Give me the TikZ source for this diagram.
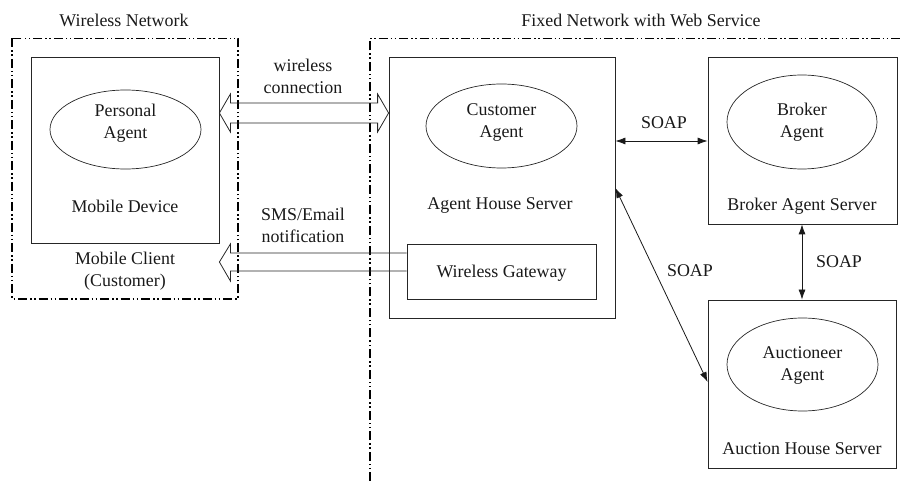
\documentclass[tikz,border=0pt]{standalone}
\usepackage{fontspec}
\setmainfont{Liberation Serif}
\usetikzlibrary{calc,arrows.meta}
\tikzset{
  lbl/.style={font=\fontsize{17.9}{22}\selectfont, align=center, inner sep=0pt, text=black!90},
  box/.style={draw=black!85, line width=0.8pt, inner sep=0pt},
  ell/.style={draw=black!85, line width=0.7pt, ellipse, inner sep=0pt},
  region/.style={draw=black, line width=1.3pt, dash pattern=on 9pt off 3pt on 1.5pt off 2.5pt on 1.5pt off 3pt},
  hollow/.style={draw=black!85, line width=0.8pt, line join=miter},
  soap/.style={draw=black!90, line width=0.8pt, {Latex[length=10pt,width=7pt]}-{Latex[length=10pt,width=7pt]}},
}
\usetikzlibrary{shapes.geometric}
\begin{document}
\begin{tikzpicture}[x=1pt,y=-1pt]
\useasboundingbox (0,0) rectangle (903,481);

% network regions
\draw[region] (12,38.5) rectangle (238,299);
\draw[region] (370,481) -- (370,38.5) -- (903,38.5);
\node[lbl] (wn) at (124,20) {Wireless Network};
\node[lbl] (fn) at (641,20) {Fixed Network with Web Service};

% boxes
\node[box, minimum width=188pt, minimum height=186pt] (mobile) at (125,150) {};
\node[box, minimum width=226pt, minimum height=261pt] (house) at (502,187.5) {};
\node[box, minimum width=189pt, minimum height=55pt] (gateway) at (501.5,271.5) {};
\node[box, minimum width=189pt, minimum height=167pt] (broker) at (802.5,140.5) {};
\node[box, minimum width=188pt, minimum height=168pt] (auction) at (802,384) {};

% ellipses
\node[ell, minimum width=151pt, minimum height=79pt] (pa) at (125.5,129.5) {};
\node[ell, minimum width=151pt, minimum height=84pt] (ca) at (501.5,126) {};
\node[ell, minimum width=150pt, minimum height=94pt] (ba) at (802,122) {};
\node[ell, minimum width=151pt, minimum height=93pt] (aa) at (802.5,364.5) {};

% texts
\node[lbl] (pat) at (125.5,123) {Personal\\Agent};
\node[lbl] (mdt) at (125,206) {Mobile Device};
\node[lbl] (mct) at (125,271) {Mobile Client\\(Customer)};
\node[lbl] (cat) at (501.5,122.5) {Customer\\Agent};
\node[lbl] (aht) at (500,206) {Agent House Server};
\node[lbl] (wgt) at (501.5,273) {Wireless Gateway};
\node[lbl] (bat) at (802,122.5) {Broker\\Agent};
\node[lbl] (bst) at (802,206) {Broker Agent Server};
\node[lbl] (aat) at (802.5,366) {Auctioneer\\Agent};
\node[lbl] (ast) at (802,449) {Auction House Server};
\node[lbl] (wct) at (303,76) {wireless\\connection};
\node[lbl] (smt) at (303,225) {SMS/Email\\notification};
\node[lbl] (s1) at (664,123) {SOAP};
\node[lbl] (s2) at (690,271) {SOAP};
\node[lbl] (s3) at (839,262) {SOAP};

% wireless connection (hollow double arrow)
\coordinate (wcL) at (mobile.east |- 0,113);
\coordinate (wcR) at (house.west |- 0,113);
\draw[hollow] (wcL) -- ++(11,-19) -- ++(0,9) -- ($(wcR)+(-11,-10)$) -- ++(0,-9)
  -- (wcR) -- ++(-11,19) -- ++(0,-9) -- ($(wcL)+(11,10)$) -- ++(0,9) -- cycle;

% SMS/Email notification (hollow arrow)
\coordinate (smL) at (mobile.east |- 0,262);
\coordinate (smR) at (gateway.west |- 0,262);
\draw[hollow] ($(smR)+(0,-9)$) -- ($(smL)+(11,-9)$) -- ++(0,-9) -- (smL)
  -- ++(11,19) -- ++(0,-10) -- ($(smR)+(0,9)$);

% SOAP connectors
\draw[soap] (house.east |- 0,141) -- (broker.west |- 0,141);
\draw[soap] (broker.south -| 802,0) -- (auction.north -| 802,0);
\draw[soap] (house.east |- 0,188) -- (auction.west |- 0,382);
\end{tikzpicture}
\end{document}
